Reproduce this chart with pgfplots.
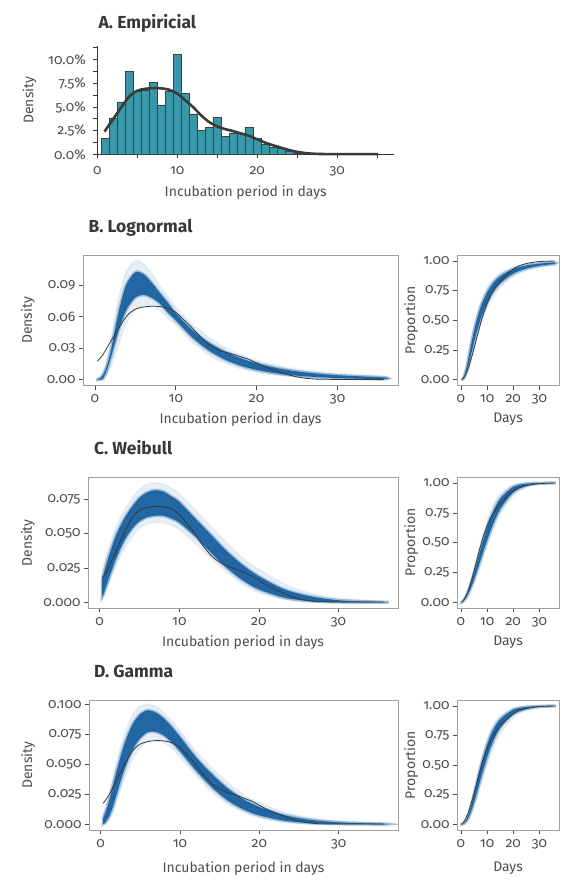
\documentclass[border=0pt]{standalone}
\usepackage{fontspec}
\setmainfont{Fira Sans}[Numbers=OldStyle]
\usepackage{pgfplots}
\pgfplotsset{compat=1.18}
\usepackage{pgfplotstable}

\definecolor{barteal}{HTML}{3A97A8}
\definecolor{bandblue}{HTML}{17609F}
\definecolor{txt}{HTML}{4D4D4D}
\definecolor{framegray}{HTML}{A0A0A0}
\definecolor{dens}{HTML}{3A3A3A}

\newcommand{\tickfont}{\fontsize{14}{16}\selectfont}
\newcommand{\labfont}{\fontsize{14}{16}\selectfont}
\newcommand{\ttlfont}{\fontsize{17.5}{20}\selectfont\bfseries}

% empirical density (proportion)
\pgfplotstableread{
d v
0.3 0.0175
1 0.0240
2 0.0370
3 0.0496
4 0.0610
5 0.0670
6 0.0690
7 0.0698
8 0.0695
9 0.0680
10 0.0640
11 0.0570
12 0.0496
13 0.0410
14 0.0340
15 0.0295
16 0.0266
17 0.0245
18 0.0220
19 0.0195
20 0.0160
21 0.0124
22 0.0096
23 0.0071
24 0.0046
25 0.0028
26 0.0015
27 0.0008
28 0.0005
30 0.0004
35.7 0.0004
}\empdens

% empirical cumulative
\pgfplotstableread{
d v
0.3 0
1 0.018
2 0.055
3 0.11
4 0.18
5 0.26
6 0.345
7 0.43
8 0.51
9 0.58
10 0.64
11 0.69
12 0.735
14 0.80
16 0.85
18 0.895
20 0.93
22 0.957
25 0.978
28 0.99
30 0.995
35.7 1.0
}\empcdf

\pgfplotsset{
  outerband/.style={fill=bandblue, fill opacity=0.10, draw=bandblue, draw opacity=0.06, line width=2bp, smooth},
  coreband/.style={fill=bandblue, fill opacity=0.95, draw=bandblue, draw opacity=0.35, line width=3bp, smooth},
  empline/.style={dens, line width=0.8bp, smooth},
  base/.style={scale only axis, anchor=south west,
    scaled ticks=false,
    tick align=outside, tick pos=left,
    major tick length=4bp, minor tick length=4bp,
    tick style={draw=txt, line width=0.6bp},
    tick label style={font=\tickfont, text=txt},
    xticklabel style={yshift=-1.5bp},
    label style={font=\labfont, text=txt},
    title style={font=\ttlfont, text=black!78, at={(0,1)}, anchor=base west},
    xmin=-1.47, xmax=37.47,
    xtick={0,10,20,30}, xticklabels={0,10,20,30},
    axis line style={draw=framegray, line width=0.7bp},
  },
  densax/.style={base, width=#1, xlabel={Incubation period in days}, ylabel={Density}},
  cdfax/.style={base, width=102bp, xlabel={Days}, ylabel={Proportion},
    ymin=-0.05, ymax=1.05, ytick={0,0.25,0.5,0.75,1},
    yticklabels={0.00,0.25,0.50,0.75,1.00},
    ylabel style={at={(-0.45,0.5)}, anchor=center}},
}

\begin{document}
\begin{tikzpicture}
\useasboundingbox (0,0) rectangle (585bp,890bp);

% ---------------- A
\begin{axis}[scale only axis, anchor=south west, at={(97.3bp,735.5bp)},
  width=296.7bp, height=108.5bp,
  scaled ticks=false,
  xmin=0, xmax=37.1, ymin=0, ymax=11.4,
  axis x line=bottom, axis y line=left,
  axis line style={-, draw=black!80, line width=0.8bp},
  tick align=outside, major tick length=4bp, minor tick length=4bp,
  tick style={draw=black!80, line width=0.7bp},
  xtick={0,10,20,30}, xticklabels={0,10,20,30}, minor xtick={5,15,25,35},
  ytick={0,2.5,5,7.5,10}, yticklabels={0.0\%,2.5\%,5.0\%,7.5\%,10.0\%},
  minor ytick={1.25,3.75,6.25,8.75,11.25},
  tick label style={font=\tickfont, text=txt},
  xticklabel style={yshift=-4bp},
  yticklabel style={xshift=-4bp},
  label style={font=\labfont, text=txt},
  xlabel={Incubation period in days}, ylabel={Density},
  xlabel style={at={(0.5,-0.355)}, anchor=center},
  ylabel style={at={(-0.229,0.5)}, anchor=center},
  title={A. Empiricial},
  title style={font=\ttlfont, text=black!78, at={(0,1)}, anchor=base west, xshift=-2.3bp, yshift=12bp},
  clip=false]
\addplot[ybar, bar width=1, fill=barteal, draw=black!75, line width=0.5bp] coordinates {
(1,1.7) (2,3.85) (3,5.5) (4,8.7) (5,6.64) (6,6.8) (7,7.55) (8,5.22) (9,6.6) (10,10.5)
(11,6.45) (12,4.28) (13,2.57) (14,2.88) (15,3.88) (16,1.9) (17,2.28) (18,2.28) (19,2.88) (20,1.67)
(21,1.06) (22,0.78) (23,0.64) (24,0.36) (25,0.18)};
\addplot[dens, line width=2.6bp, smooth] coordinates {
(0.9,2.4) (2,3.75) (3,4.96) (4,6.1) (5,6.7) (6,6.9) (7,6.98) (8,6.95) (9,6.8) (10,6.4)
(11,5.7) (12,4.96) (13,4.1) (14,3.4) (15,2.95) (16,2.66) (17,2.45) (18,2.2) (19,1.95) (20,1.6)
(21,1.24) (22,0.96) (23,0.71) (24,0.46) (25,0.28) (26,0.15) (27,0.08) (28,0.05) (30,0.04) (35.1,0.04)};
\end{axis}

% ---------------- B
\begin{axis}[densax=315bp, at={(83bp,504.3bp)}, height=130.7bp,
  ymin=-0.0056, ymax=0.1184, ytick={0,0.03,0.06,0.09}, yticklabels={0.00,0.03,0.06,0.09},
  xlabel style={at={(0.5,-0.26)}, anchor=center},
  ylabel style={at={(-0.1746,0.5)}, anchor=center},
  title={B. Lognormal}, title style={xshift=2bp, yshift=16.7bp}]
\addplot[outerband] coordinates {
(0.3,0.001)(0.6,0.0025)(1,0.008)(1.5,0.021)(2,0.040)(2.5,0.060)(3,0.079)(3.5,0.094)(4,0.104)(5,0.113)(6,0.110)(7,0.101)(8,0.090)(9,0.079)(10,0.069)(12,0.053)(14,0.041)(16,0.031)(18,0.024)(20,0.0185)(23,0.0128)(26,0.0089)(30,0.0056)(35.7,0.003)
(35.7,0.0004)(30,0.0011)(26,0.0023)(23,0.0041)(20,0.0072)(18,0.0105)(16,0.016)(14,0.024)(12,0.036)(10,0.052)(9,0.059)(8,0.066)(7,0.070)(6,0.070)(5,0.066)(4,0.055)(3.5,0.046)(3,0.035)(2.5,0.024)(2,0.013)(1.5,0.005)(1,0.0006)(0.6,0)(0.3,0)} -- cycle;
\addplot[coreband] coordinates {
(0.3,0.0004)(0.6,0.0012)(1,0.0045)(1.5,0.0135)(2,0.0286)(2.5,0.048)(3,0.0663)(3.5,0.0813)(4,0.0921)(5,0.1020)(6,0.1003)(7,0.0923)(8,0.0826)(9,0.0732)(10,0.0632)(12,0.0475)(14,0.0356)(16,0.0270)(18,0.0205)(20,0.0156)(23,0.0104)(26,0.0070)(30,0.0043)(35.7,0.0022)
(35.7,0.0007)(30,0.0017)(26,0.0033)(23,0.0055)(20,0.0094)(18,0.0135)(16,0.0195)(14,0.0283)(12,0.0405)(10,0.0565)(9,0.0640)(8,0.0727)(7,0.0780)(6,0.0806)(5,0.0782)(4,0.0681)(3.5,0.0595)(3,0.0484)(2.5,0.0355)(2,0.0219)(1.5,0.0095)(1,0.0012)(0.6,0.0002)(0.3,0)} -- cycle;
\addplot[empline] table[x=d,y=v]{\empdens};
\end{axis}
\begin{axis}[cdfax, at={(457bp,504.3bp)}, height=130.7bp,
  xlabel style={at={(0.5,-0.26)}, anchor=center}]
\addplot[outerband] coordinates {
(0.3,0.0001)(1,0.0168)(2,0.104)(3,0.2261)(4,0.3475)(5,0.455)(6,0.5458)(7,0.6206)(8,0.6823)(10,0.7743)(12,0.8367)(15,0.8962)(20,0.9474)(25,0.9712)(30,0.9832)(35.7,0.9905)
(35.7,0.9674)(30,0.9479)(25,0.9191)(20,0.8686)(15,0.7764)(12,0.6847)(10,0.5999)(8,0.4896)(7,0.4235)(6,0.3501)(5,0.27)(4,0.1862)(3,0.1053)(2,0.0393)(1,0.0043)(0.3,0)} -- cycle;
\addplot[coreband] coordinates {
(0.3,0)(1,0.0122)(2,0.0832)(3,0.1902)(4,0.3026)(5,0.406)(6,0.496)(7,0.5723)(8,0.6366)(10,0.735)(12,0.804)(15,0.8718)(20,0.9325)(25,0.962)(30,0.9773)(35.7,0.9868)
(35.7,0.9755)(30,0.96)(25,0.9362)(20,0.8934)(15,0.8119)(12,0.7277)(10,0.6473)(8,0.5396)(7,0.4729)(6,0.3974)(5,0.3128)(4,0.2215)(3,0.1299)(2,0.0511)(1,0.0062)(0.3,0)} -- cycle;
\addplot[empline] table[x=d,y=v]{\empcdf};
\end{axis}

% ---------------- C
\begin{axis}[densax=310bp, at={(88bp,281.6bp)}, height=131.4bp,
  ymin=-0.0043, ymax=0.0911, ytick={0,0.025,0.05,0.075}, yticklabels={0.000,0.025,0.050,0.075},
  xlabel style={at={(0.5,-0.26)}, anchor=center},
  ylabel style={at={(-0.1935,0.5)}, anchor=center},
  title={C. Weibull}, title style={xshift=2.5bp, yshift=16.7bp}]
\addplot[outerband] coordinates {
(0.3,0.021)(0.5,0.027)(1,0.037)(2,0.054)(3,0.066)(4,0.075)(5,0.082)(6,0.086)(7,0.087)(8,0.086)(9,0.083)(10,0.079)(12,0.067)(14,0.055)(16,0.043)(18,0.032)(20,0.024)(23,0.014)(26,0.0075)(30,0.003)(35.7,0.0008)
(35.7,0)(30,0.0001)(26,0.0006)(23,0.0025)(20,0.007)(18,0.013)(16,0.022)(14,0.032)(12,0.043)(10,0.053)(9,0.056)(8,0.058)(7,0.058)(6,0.057)(5,0.054)(4,0.047)(3,0.038)(2,0.026)(1,0.011)(0.5,0.004)(0.3,0.002)} -- cycle;
\addplot[coreband] coordinates {
(0.3,0.016)(0.5,0.021)(1,0.031)(2,0.048)(3,0.060)(4,0.069)(5,0.076)(6,0.080)(7,0.0815)(8,0.0805)(9,0.077)(10,0.073)(12,0.061)(14,0.049)(16,0.037)(18,0.027)(20,0.019)(23,0.010)(26,0.0050)(30,0.0016)(35.7,0.0003)
(35.7,0)(30,0.0002)(26,0.0012)(23,0.0038)(20,0.0095)(18,0.016)(16,0.025)(14,0.036)(12,0.048)(10,0.058)(9,0.061)(8,0.063)(7,0.063)(6,0.062)(5,0.059)(4,0.053)(3,0.044)(2,0.031)(1,0.015)(0.5,0.0065)(0.3,0.004)} -- cycle;
\addplot[empline] table[x=d,y=v]{\empdens};
\end{axis}
\begin{axis}[cdfax, at={(457bp,281.6bp)}, height=131.4bp,
  xlabel style={at={(0.5,-0.26)}, anchor=center}]
\addplot[outerband] coordinates {
(0.3,0.0021)(1,0.0181)(2,0.0617)(3,0.1237)(4,0.1987)(5,0.2819)(6,0.3686)(7,0.4548)(8,0.5377)(10,0.6843)(12,0.7983)(15,0.9086)(20,0.982)(25,0.9975)(30,0.9998)(35.7,1)
(35.7,0.9983)(30,0.9905)(25,0.9651)(20,0.8941)(15,0.7376)(12,0.5915)(10,0.4753)(8,0.3505)(7,0.2878)(6,0.2267)(5,0.169)(4,0.1165)(3,0.0712)(2,0.035)(1,0.0102)(0.3,0.0012)} -- cycle;
\addplot[coreband] coordinates {
(0.3,0.0018)(1,0.0154)(2,0.0526)(3,0.106)(4,0.1715)(5,0.245)(6,0.3232)(7,0.4025)(8,0.4805)(10,0.6243)(12,0.7431)(15,0.8688)(20,0.9669)(25,0.9939)(30,0.9992)(35.7,1)
(35.7,0.9993)(30,0.995)(25,0.978)(20,0.9222)(15,0.7817)(12,0.6388)(10,0.5198)(8,0.3878)(7,0.3202)(6,0.2536)(5,0.19)(4,0.1315)(3,0.0806)(2,0.0397)(1,0.0116)(0.3,0.0013)} -- cycle;
\addplot[empline] table[x=d,y=v]{\empcdf};
\end{axis}

% ---------------- D
\begin{axis}[densax=309bp, at={(89bp,59.7bp)}, height=130.3bp,
  ymin=-0.0049, ymax=0.1036, ytick={0,0.025,0.05,0.075,0.1}, yticklabels={0.000,0.025,0.050,0.075,0.100},
  xlabel style={at={(0.5,-0.29)}, anchor=center},
  ylabel style={at={(-0.197,0.5)}, anchor=center},
  title={D. Gamma}, title style={xshift=1.5bp, yshift=16.7bp}]
\addplot[outerband] coordinates {
(0.3,0.008)(0.5,0.012)(1,0.024)(1.5,0.038)(2,0.052)(3,0.075)(4,0.091)(5,0.0985)(6,0.100)(7,0.098)(8,0.093)(9,0.086)(10,0.078)(12,0.061)(14,0.047)(16,0.035)(18,0.025)(20,0.018)(23,0.0105)(26,0.006)(30,0.0028)(35.7,0.0009)
(35.7,0)(30,0.0001)(26,0.0007)(23,0.002)(20,0.0055)(18,0.010)(16,0.017)(14,0.027)(12,0.041)(10,0.056)(9,0.063)(8,0.068)(7,0.070)(6,0.069)(5,0.064)(4,0.054)(3,0.038)(2,0.018)(1.5,0.009)(1,0.003)(0.5,0.0003)(0.3,0)} -- cycle;
\addplot[coreband] coordinates {
(0.3,0.005)(0.5,0.008)(1,0.018)(1.5,0.031)(2,0.044)(3,0.067)(4,0.083)(5,0.092)(6,0.095)(7,0.093)(8,0.088)(9,0.081)(10,0.073)(12,0.056)(14,0.042)(16,0.030)(18,0.021)(20,0.0145)(23,0.008)(26,0.0042)(30,0.0017)(35.7,0.0005)
(35.7,0.0001)(30,0.0004)(26,0.0013)(23,0.0033)(20,0.0075)(18,0.0125)(16,0.020)(14,0.031)(12,0.045)(10,0.061)(9,0.068)(8,0.074)(7,0.077)(6,0.077)(5,0.072)(4,0.062)(3,0.046)(2,0.025)(1.5,0.014)(1,0.006)(0.5,0.001)(0.3,0.0003)} -- cycle;
\addplot[empline] table[x=d,y=v]{\empdens};
\end{axis}
\begin{axis}[cdfax, at={(457bp,59.7bp)}, height=130.3bp,
  xlabel style={at={(0.5,-0.29)}, anchor=center}]
\addplot[outerband] coordinates {
(0.3,0.0003)(1,0.0066)(2,0.0397)(3,0.103)(4,0.187)(5,0.284)(6,0.385)(7,0.481)(8,0.573)(10,0.717)(12,0.821)(15,0.915)(20,0.978)(25,0.995)(30,0.999)(35.7,1)
(35.7,0.996)(30,0.986)(25,0.963)(20,0.899)(15,0.766)(12,0.624)(10,0.503)(8,0.364)(7,0.291)(6,0.220)(5,0.153)(4,0.095)(3,0.0483)(2,0.0175)(1,0.0027)(0.3,0)} -- cycle;
\addplot[coreband] coordinates {
(0.3,0.0002)(1,0.0055)(2,0.0331)(3,0.0877)(4,0.162)(5,0.250)(6,0.343)(7,0.435)(8,0.522)(10,0.670)(12,0.783)(15,0.887)(20,0.968)(25,0.991)(30,0.998)(35.7,1)
(35.7,0.998)(30,0.993)(25,0.976)(20,0.933)(15,0.817)(12,0.685)(10,0.564)(8,0.418)(7,0.340)(6,0.260)(5,0.184)(4,0.116)(3,0.060)(2,0.0221)(1,0.0034)(0.3,0.0001)} -- cycle;
\addplot[empline] table[x=d,y=v]{\empcdf};
\end{axis}
\end{tikzpicture}
\end{document}
